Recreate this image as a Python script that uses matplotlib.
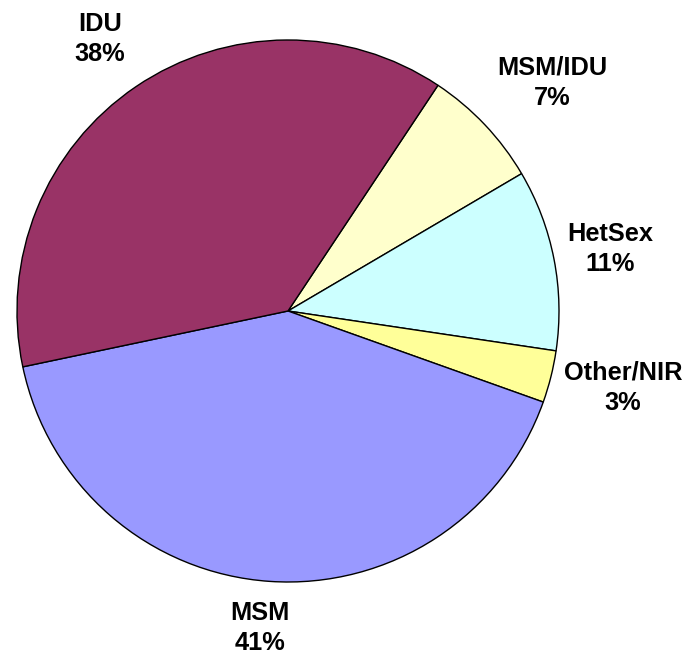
import matplotlib.pyplot as plt

# slice data, clockwise from the IDU / MSM-IDU boundary
groups = ['MSM/IDU', 'HetSex', 'Other/NIR', 'MSM', 'IDU']
shares = [7.2, 10.8, 3.1, 41.2, 37.6]
pct_labels = ['7%', '11%', '3%', '41%', '38%']
colors = ['#FFFFCC', '#CCFFFF', '#FFFF99', '#9999FF', '#993366']

# label anchor points in pixels (x, y from top)
label_pos = [(552, 83), (610, 249), (623, 388), (260, 628), (100, 39)]

W, H = 684, 656
fig = plt.figure(figsize=(W / 100, H / 100), dpi=100)
ax = fig.add_axes([0, 0, 1, 1])

ax.pie(shares, colors=colors, startangle=56.4, counterclock=False,
       center=(288, H - 311), radius=271,
       wedgeprops=dict(edgecolor='black', linewidth=1.0))

for g, p, (x, y) in zip(groups, pct_labels, label_pos):
    ax.text(x, H - y, g + '\n' + p, ha='center', va='center',
            fontsize=18.3, fontweight='bold', family='Liberation Sans',
            linespacing=1.35)

ax.set_xlim(0, W)
ax.set_ylim(0, H)
ax.set_aspect('equal')
ax.axis('off')

fig.savefig('out.png', dpi=100, facecolor='white')
